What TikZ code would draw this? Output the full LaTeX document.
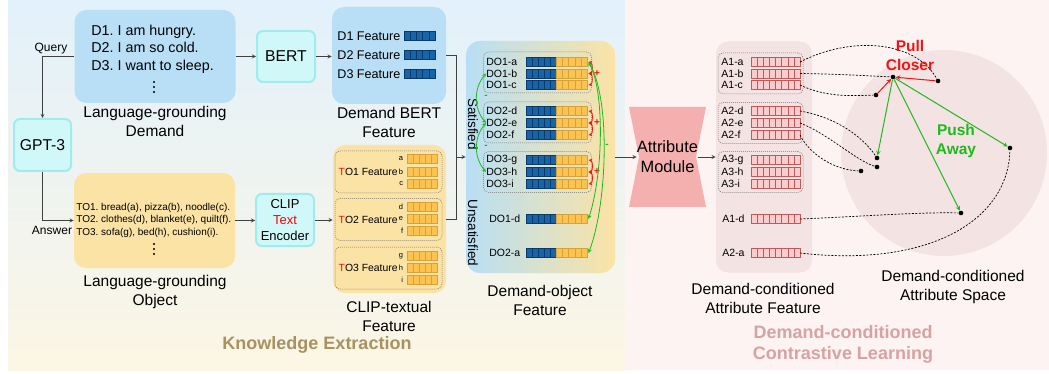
\documentclass[tikz,border=0pt]{standalone}
\usepackage{fontspec}
\setmainfont{Liberation Sans}
\usetikzlibrary{arrows}
\frenchspacing

\definecolor{bgtop}{HTML}{E2F1FB}
\definecolor{bgbot}{HTML}{FCF6E5}
\definecolor{bgpink}{HTML}{FDF3F3}
\definecolor{demblue}{HTML}{B8DFF5}
\definecolor{objyel}{HTML}{FBE3A5}
\definecolor{cyanfill}{HTML}{D0F8F8}
\definecolor{cyanedge}{HTML}{A0ECEC}
\definecolor{fblue}{HTML}{1664AA}
\definecolor{fblueedge}{HTML}{0C3A68}
\definecolor{fyel}{HTML}{FDC350}
\definecolor{fyeledge}{HTML}{D7A23C}
\definecolor{apink}{HTML}{F9CDCD}
\definecolor{apinkedge}{HTML}{C45757}
\definecolor{attrbg}{HTML}{F4E3E3}
\definecolor{modpink}{HTML}{F4B0AF}
\definecolor{pushgreen}{HTML}{1DBA1D}
\definecolor{pullred}{HTML}{F51212}
\definecolor{kecol}{HTML}{A8925F}
\definecolor{clcol}{HTML}{D7A2A2}

% a row of feature cells: x0, y, cells, cell width, fill, edge
\newcommand{\cellbar}[6]{%
  \foreach \cc in {1,...,#3}
    \draw[fill=#5,draw=#6,line width=0.5pt] ({#1+(\cc-1)*#4},{#2-4.7}) rectangle ({#1+\cc*#4},{#2+4.7});
}
% three dots in a column
\newcommand{\dotcol}[2]{%
  \foreach \cc in {0,1,2}
    \fill ({#1},{#2+\cc*5}) circle (1.1pt);
}

\begin{document}
\begin{tikzpicture}[x=1pt,y=-1pt,thick,
  lbl/.style={font=\fontsize{15.5}{19}\selectfont,align=center,inner sep=0pt},
  boxtxt/.style={font=\fontsize{14.3}{17.5}\selectfont,align=left,inner sep=0pt},
  softbox/.style={rounded corners=12pt,inner sep=0pt,draw=none},
  modbox/.style={draw=cyanedge,line width=2pt,fill=cyanfill,rounded corners=6pt,inner sep=0pt,align=center},
  featlbl/.style={font=\fontsize{12.6}{15}\selectfont,inner sep=0pt,anchor=west},
  rowlbl/.style={font=\fontsize{10.5}{12}\selectfont,inner sep=0pt,anchor=west},
  grp/.style={draw=black!55,dash pattern=on 1pt off 1pt,rounded corners=5pt,line width=0.5pt},
  wire/.style={draw=black!75,line width=0.8pt},
  conn/.style={wire,-stealth},
  dashc/.style={dash pattern=on 2pt off 1.5pt,line width=0.7pt},
  spot/.style={circle,fill=black,inner sep=0pt,minimum size=4.6pt},
  pullc/.style={draw=pullred,line width=1pt,-stealth},
  pushc/.style={draw=pushgreen,line width=1pt,-stealth},
  sign/.style={font=\bfseries\fontsize{10}{12}\selectfont,inner sep=0pt}]
\useasboundingbox (0,0) rectangle (1049,374);
\shade[top color=bgtop,bottom color=bgbot] (8,0) rectangle (625,370);
\fill[bgpink] (625,0) rectangle (1049,370);

% knowledge extraction
\node[softbox,fill=demblue,minimum width=161pt,minimum height=93pt] (dem) at (155,56.5) {};
\node[boxtxt,anchor=west] (demtxt) at (91,49) {D1. I am hungry.\\D2. I am so cold.\\D3. I want to sleep.};
\dotcol{154}{82}
\node[lbl] (demlbl) at (155,121) {Language-grounding\\Demand};

\node[modbox,minimum width=58pt,minimum height=51pt,font=\fontsize{15.7}{18}\selectfont] (bert) at (286,56.5) {BERT};
\node[modbox,minimum width=57pt,minimum height=52pt,font=\fontsize{15.7}{18}\selectfont] (gpt) at (42.5,145) {GPT-3};

\node[softbox,fill=objyel,minimum width=161pt,minimum height=95pt] (obj) at (154.5,220.5) {};
\node[font=\fontsize{10}{12.5}\selectfont,align=left,inner sep=0pt,anchor=west] (objtxt) at (76,220) {TO1. bread(a), pizza(b), noodle(c).\\TO2. clothes(d), blanket(e), quilt(f).\\TO3. sofa(g), bed(h), cushion(i).};
\dotcol{154}{244}
\node[lbl] (objlbl) at (155,292) {Language-grounding\\Object};

\node[modbox,minimum width=58pt,minimum height=52pt,font=\fontsize{13}{16}\selectfont] (clip) at (285,220) {CLIP\\\textcolor{red}{Text}\\Encoder};

\node[softbox,fill=demblue,minimum width=114pt,minimum height=97pt] (dbf) at (389,55.5) {};
\foreach \i/\y in {1/36,2/55,3/74}{
  \node[featlbl] (dbf\i) at (337,\y) {D\i{} Feature};
  \cellbar{404}{\y}{5}{6.2}{fblue}{fblueedge}
}
\node[lbl] (dbflbl) at (389,122) {Demand BERT\\Feature};

\node[softbox,fill=objyel,minimum width=113pt,minimum height=148pt] (ctf) at (389.5,219) {};
\foreach \gi/\y in {1/172,2/219.5,3/268}{
  \node[grp,minimum width=107pt,minimum height=42pt] (ctfg\gi) at (388.5,\y) {};
  \node[font=\fontsize{10.4}{12}\selectfont,inner sep=0pt,anchor=east] (to\gi) at (398,\y) {\textcolor{red}{T}O\gi{} Feature};
}
\foreach \lt/\y in {a/159,b/171.5,c/184,d/207,e/219,f/231,g/256,h/268,i/280}{
  \node[font=\fontsize{7.5}{9}\selectfont,inner sep=0pt,anchor=east] (let\lt) at (403.5,\y) {\lt};
  \cellbar{407}{\y}{5}{6}{fyel}{fyeledge}
}
\node[lbl] (ctflbl) at (389,316) {CLIP-textual\\Feature};

\draw[conn] (dem.west) -| (gpt.north);
\node[font=\fontsize{12}{14}\selectfont,inner sep=0pt] (qry) at (51,49) {Query};
\draw[conn] (gpt.south) |- (obj.west);
\node[font=\fontsize{12}{14}\selectfont,inner sep=0pt] (ans) at (52,230) {Answer};
\draw[conn] (dem.east) -- (bert.west);
\draw[conn] (bert.east) -- (bert.east -| dbf.west);
\draw[conn] (obj.east) -- (obj.east -| clip.west);
\draw[conn] (clip.east) -- (clip.east -| ctf.west);

% demand-object feature
\node[rounded corners=14pt,left color=demblue,right color=objyel,minimum width=149pt,minimum height=232pt,inner sep=0pt] (dof) at (540.5,157) {};
\coordinate (join) at (456,157);
\draw[wire] (dbf.east) -| (join);
\draw[wire] (ctf.east) -| (join);
\draw[conn] (join) -- (dof.west);

\foreach \gi/\y in {1/72.5,2/122.5,3/172}
  \node[grp,minimum width=108pt,minimum height=41pt] (dog\gi) at (537.5,\y) {};
\foreach \n/\txt/\y/\x in {do1a/DO1-a/62/486,do1b/DO1-b/73.5/486,do1c/DO1-c/85/486,
    do2d/DO2-d/111/486,do2e/DO2-e/123/486,do2f/DO2-f/135/486,
    do3g/DO3-g/160/486,do3h/DO3-h/172/486,do3i/DO3-i/184/486,
    do1d/DO1-d/219/489,do2a/DO2-a/253/489}{
  \node[rowlbl] (l\n) at (\x,\y) {\txt};
  \cellbar{526}{\y}{5}{6.1}{fblue}{fblueedge}
  \cellbar{556.5}{\y}{5}{6.1}{fyel}{fyeledge}
  \coordinate (\n) at (588.5,\y);
}
\node[rotate=-90,font=\fontsize{13.5}{16}\selectfont,inner sep=0pt] (sat) at (473,124) {Satisfied};
\node[rotate=-90,font=\fontsize{13.5}{16}\selectfont,inner sep=0pt] (unsat) at (473,233) {Unsatisfied};

\foreach \a/\b in {do1a/do1b,do1b/do1c,do2d/do2e,do2e/do2f,do3g/do3h,do3h/do3i}
  \draw[draw=pullred,line width=0.7pt,stealth-stealth] (\a) to[bend left=80] (\b);
\foreach \y in {74,123,172}
  \node[sign,text=pullred] at (597,\y) {+};

\draw[pushc,stealth-stealth,line width=0.8pt] (ldo1b.west) to[bend right=40] (ldo2e.west);
\draw[pushc,stealth-stealth,line width=0.8pt] (ldo2e.west) to[bend right=40] (ldo3h.west);
\draw[pushc,stealth-stealth,line width=0.8pt] (do1a) .. controls (604,90) and (604,170) .. (do1d);
\draw[pushc,stealth-stealth,line width=0.8pt] (do1a) .. controls (611,100) and (607,205) .. (do2a);
\node[sign,text=pushgreen] (m1) at (486,97) {-};
\node[sign,text=pushgreen] (m2) at (486,147) {-};
\node[sign,text=pushgreen] (m3) at (607,146) {-};
\node[lbl] (doflbl) at (540,300) {Demand-object\\Feature};

\node[font=\bfseries\fontsize{18}{21}\selectfont,text=kecol,inner sep=0pt] (ke) at (317,345) {Knowledge Extraction};

% contrastive learning
\fill[modpink] (629,107) -- (706,107) -- (696,157) -- (706,207) -- (629,207) -- (639,157) -- cycle;
\node[font=\fontsize{16.4}{20}\selectfont,align=center,inner sep=0pt] (mod) at (667.5,157) {Attribute\\Module};
\draw[conn] (dof.east) -- (mod.west);

\node[softbox,fill=attrbg,minimum width=96pt,minimum height=231pt] (afb) at (764,157) {};
\draw[conn] (mod.east) -- (afb.west);
\foreach \gi/\y in {1/73.5,2/123,3/172}
  \node[grp,minimum width=85pt,minimum height=41pt] (ag\gi) at (760.5,\y) {};
\foreach \n/\txt/\y/\x in {a1a/A1-a/62/721,a1b/A1-b/73.5/721,a1c/A1-c/85/721,
    a2d/A2-d/111/721,a2e/A2-e/123/721,a2f/A2-f/135/721,
    a3g/A3-g/160/721,a3h/A3-h/172/721,a3i/A3-i/184/721,
    a1d/A1-d/219/722,a2a/A2-a/253/722}{
  \node[rowlbl] (l\n) at (\x,\y) {\txt};
  \cellbar{751}{\y}{8}{6.125}{apink}{apinkedge}
  \coordinate (\n) at (800,\y);
}
\node[lbl] (afblbl) at (763,298) {Demand-conditioned\\Attribute Feature};

\fill[attrbg] (944,153) circle (103pt);
\node[spot] (p0) at (893,77) {};
\node[spot] (pa) at (938,81) {};
\node[spot] (pc) at (876,95) {};
\node[spot] (pd) at (877,158) {};
\node[spot] (pe) at (877,167) {};
\node[spot] (pf) at (861,171) {};
\node[spot] (q1) at (1010,148) {};
\node[spot] (q2) at (961,213) {};

\draw[dashc] (a1a) .. controls (850,36) and (915,40) .. (pa);
\draw[dashc] (a1b) .. controls (840,74) and (870,76) .. (p0);
\draw[dashc] (a1c) .. controls (825,97) and (850,96) .. (pc);
\draw[dashc] (a2d) .. controls (840,118) and (865,140) .. (pd);
\draw[dashc] (a2e) .. controls (830,135) and (855,160) .. (pe);
\draw[dashc] (a2f) .. controls (810,155) and (835,170) .. (pf);
\draw[dashc] (a1d) .. controls (870,216) and (920,212) .. (q2);
\draw[dashc] (a2a) .. controls (930,268) and (1008,220) .. (q1);

\draw[pullc] (pa) -- (p0);
\draw[pullc] (pc) -- (p0);
\draw[pushc] (p0) -- (pd);
\draw[pushc] (p0) -- (q1);
\draw[pushc] (p0) -- (q2);

\node[font=\bfseries\fontsize{15.5}{19}\selectfont,text=pullred,align=center,inner sep=0pt] (pulllbl) at (910,55) {Pull\\Closer};
\node[font=\bfseries\fontsize{15.5}{19.5}\selectfont,text=pushgreen,align=center,inner sep=0pt] (pushlbl) at (956,141) {Push\\Away};
\node[lbl] (spacelbl) at (953,287) {Demand-conditioned\\Attribute Space};
\node[font=\bfseries\fontsize{18}{21}\selectfont,text=clcol,align=center,inner sep=0pt] (dccl) at (843,344.5) {Demand-conditioned\\Contrastive Learning};
\end{tikzpicture}
\end{document}
